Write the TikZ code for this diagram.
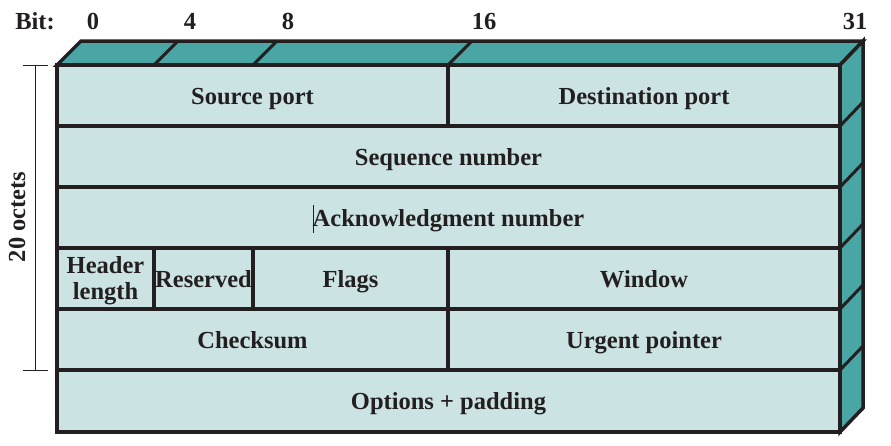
\documentclass[tikz,border=0pt]{standalone}
\usepackage{fontspec}
\setmainfont{Liberation Serif}
\definecolor{facecol}{HTML}{CCE3E3}
\definecolor{sidecol}{HTML}{4AA5A5}
\definecolor{inkcol}{HTML}{231F20}
\newcommand\fldfont{\fontsize{24.5}{24}\selectfont\bfseries}
\newcommand\twolinefont{\fontsize{24.5}{26}\selectfont\bfseries}
\begin{document}
\begin{tikzpicture}[x=1pt,y=-1pt,
  field/.style={draw=inkcol, fill=facecol, line width=4pt, anchor=north west,
    inner sep=0pt, outer sep=0pt, font=\fldfont, text=inkcol, align=center,
    text height=20pt, text depth=3pt},
  sideface/.style={draw=inkcol, fill=sidecol, line width=3.5pt, line join=miter},
  edge3d/.style={draw=inkcol, line width=3pt},
  bitlbl/.style={anchor=base, font=\fldfont, text=inkcol, inner sep=0pt},
  dimline/.style={draw=inkcol, line width=1pt}]
\useasboundingbox (0,0) rectangle (891,445);
% 3D faces
\filldraw[sideface] (57,65) -- (81,41) -- (863,41) -- (840,65) -- cycle;
\filldraw[sideface] (840,65) -- (863,41) -- (863,408) -- (840,432) -- cycle;
\foreach \x in {154,253,448} \draw[edge3d] (\x,65) -- (\x+24,41);
\foreach \y in {126,187,248,309,370} \draw[edge3d] (840,\y) -- (863,\y-24);
% fields
\node[field, minimum width=391pt, minimum height=61pt] (src) at (57,65) {Source port};
\node[field, minimum width=392pt, minimum height=61pt] (dst) at (448,65) {Destination port};
\node[field, minimum width=783pt, minimum height=61pt] (seq) at (57,126) {Sequence number};
\node[field, minimum width=783pt, minimum height=61pt] (ack) at (57,187) {Acknowledgment number};
\node[field, minimum width=97pt, minimum height=61pt] (hlen) at (57,248) {};
\node[font=\twolinefont, text=inkcol, align=center, inner sep=0pt] (hlentxt) at ([yshift=-2pt]hlen.center) {Header\\length};
\node[field, minimum width=99pt, minimum height=61pt] (res) at (154,248) {Reserved};
\node[field, minimum width=195pt, minimum height=61pt] (flags) at (253,248) {Flags};
\node[field, minimum width=392pt, minimum height=61pt] (win) at (448,248) {Window};
\node[field, minimum width=391pt, minimum height=61pt] (chk) at (57,309) {Checksum};
\node[field, minimum width=392pt, minimum height=61pt] (urg) at (448,309) {Urgent pointer};
\node[field, minimum width=783pt, minimum height=62pt] (opt) at (57,370) {Options + padding};
% cursor mark
\draw[inkcol, line width=0.8pt] (313,205) -- (313,233);
% bit labels
\node[bitlbl] (bit) at (35,29) {Bit:};
\node[bitlbl] (b0) at (93,29) {0};
\node[bitlbl] (b4) at (190,29) {4};
\node[bitlbl] (b8) at (288,29) {8};
\node[bitlbl] (b16) at (484,29) {16};
\node[bitlbl] (b31) at (855,29) {31};
% dimension
\coordinate (dtop) at (35,65);
\coordinate (dbot) at (35,370);
\draw[dimline] (dtop) -- (dbot);
\draw[dimline] ([xshift=-12pt]dtop) -- ([xshift=13pt]dtop);
\draw[dimline] ([xshift=-12pt]dbot) -- ([xshift=13pt]dbot);
\node[font=\fldfont, text=inkcol, rotate=90, inner sep=0pt] (oct) at (17,217) {20 octets};
\end{tikzpicture}
\end{document}
